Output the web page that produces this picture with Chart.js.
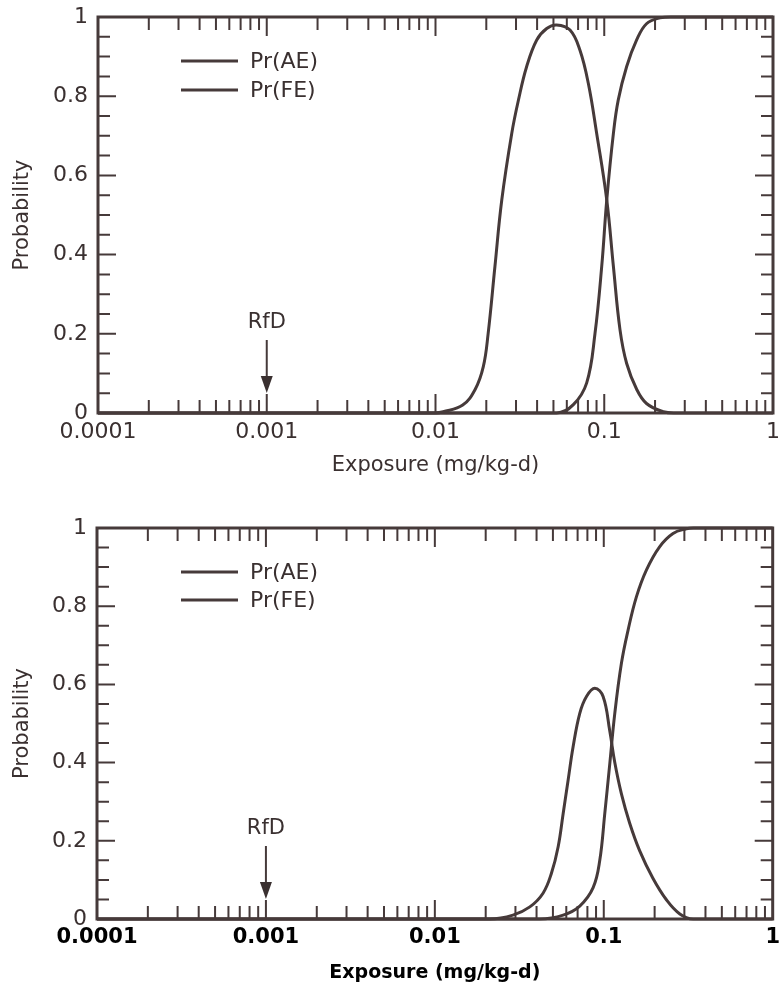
<!DOCTYPE html>
<html>
<head>
<meta charset="utf-8">
<script src="https://cdn.jsdelivr.net/npm/chart.js@4.4.1/dist/chart.umd.min.js"></script>
<style>
  html, body { margin: 0; padding: 0; background: #fff; }
  #wrap { position: relative; width: 780px; height: 990px; overflow: hidden; }
  canvas { position: absolute; left: 0; }
  #topChart { top: -20px; }
  #bottomChart { top: 480px; }
</style>
</head>
<body>
<div id="wrap">
  <canvas id="topChart" width="786" height="500"></canvas>
  <canvas id="bottomChart" width="786" height="510"></canvas>
</div>
<script>
// axis ticks
const exposureTicks = [0.0001, 0.001, 0.01, 0.1, 1];
const probTicks = [0, 0.2, 0.4, 0.6, 0.8, 1];
const minorMultipliers = [1, 2, 3, 4, 5, 6, 7, 8, 9];
const rfd = 0.001;
const seriesLabels = ["Pr(AE)", "Pr(FE)"];

// upper panel
const topAeX = [0.0001, 0.0100, 0.0111, 0.0145, 0.0172, 0.0192, 0.0205, 0.0225, 0.0247, 0.0283, 0.0310, 0.0347, 0.0398, 0.0456, 0.0522, 0.0627, 0.0718, 0.0805, 0.0902, 0.1035, 0.1133, 0.124, 0.1358, 0.1556, 0.178, 0.224, 0.26, 1];
const topAeY = [0, 0, 0.003, 0.02, 0.06, 0.117, 0.20, 0.37, 0.538, 0.706, 0.79, 0.875, 0.942, 0.971, 0.98, 0.967, 0.916, 0.832, 0.706, 0.538, 0.37, 0.21, 0.125, 0.06, 0.024, 0.003, 0, 0];
const topFeX = [0.0001, 0.0522, 0.0656, 0.0787, 0.0881, 0.0966, 0.1035, 0.1133, 0.121, 0.1358, 0.1556, 0.178, 0.214, 0.25, 1];
const topFeY = [0, 0, 0.021, 0.076, 0.20, 0.37, 0.538, 0.706, 0.79, 0.875, 0.942, 0.983, 0.998, 1, 1];

// lower panel
const botAeX = [0.0001, 0.0211, 0.029, 0.0365, 0.0437, 0.049, 0.0537, 0.0575, 0.0615, 0.0658, 0.0721, 0.079, 0.0885, 0.0991, 0.1086, 0.1162, 0.1272, 0.1424, 0.163, 0.195, 0.236, 0.282, 0.338, 1];
const botAeY = [0, 0, 0.01, 0.031, 0.066, 0.117, 0.185, 0.27, 0.355, 0.44, 0.526, 0.569, 0.59, 0.569, 0.48, 0.40, 0.32, 0.245, 0.175, 0.105, 0.048, 0.013, 0, 0];
const botFeX = [0.0001, 0.0418, 0.0575, 0.0721, 0.0865, 0.0947, 0.1014, 0.1086, 0.1162, 0.1272, 0.1393, 0.156, 0.179, 0.214, 0.257, 0.308, 0.34, 1];
const botFeY = [0, 0, 0.01, 0.033, 0.08, 0.15, 0.27, 0.398, 0.526, 0.654, 0.739, 0.824, 0.893, 0.952, 0.986, 0.998, 1, 1];

const ink = "#463a3a";
const FONT = "'DejaVu Sans', sans-serif";

const toPoints = (xs, ys) => xs.map((x, i) => ({ x: x, y: ys[i] }));

// box with inward ticks on all four sides
const framePlugin = {
  id: "frame",
  afterDatasetsDraw(chart) {
    const { ctx, chartArea: a } = chart;
    const xs = chart.scales.x, ys = chart.scales.y;
    ctx.save();
    ctx.strokeStyle = ink;
    ctx.lineWidth = 2;
    ctx.beginPath();
    exposureTicks.slice(0, -1).forEach((d) => {
      minorMultipliers.forEach((m) => {
        const px = xs.getPixelForValue(d * m);
        const len = m === 1 ? 19 : 13;
        ctx.moveTo(px, a.bottom); ctx.lineTo(px, a.bottom - len);
        ctx.moveTo(px, a.top); ctx.lineTo(px, a.top + len);
      });
    });
    for (let i = 0; i <= 20; i++) {
      const py = ys.getPixelForValue(i * 0.05);
      const len = i % 4 === 0 ? 18 : 12;
      ctx.moveTo(a.left, py); ctx.lineTo(a.left + len, py);
      ctx.moveTo(a.right, py); ctx.lineTo(a.right - len, py);
    }
    ctx.stroke();
    ctx.lineWidth = 3;
    ctx.strokeRect(a.left, a.top, a.width, a.height);
    ctx.restore();
  },
};

// legend lines inside the plot
const legendPlugin = {
  id: "legendBox",
  afterDraw(chart, args, opts) {
    const { ctx, chartArea: a } = chart;
    ctx.save();
    ctx.font = "22px " + FONT;
    ctx.textBaseline = "middle";
    chart.data.datasets.forEach((ds, i) => {
      const y = a.top + opts.dy + i * opts.gap;
      ctx.strokeStyle = ds.borderColor;
      ctx.lineWidth = 3;
      ctx.beginPath();
      ctx.moveTo(opts.x, y);
      ctx.lineTo(opts.x + 57, y);
      ctx.stroke();
      ctx.fillStyle = "#3a3030";
      ctx.fillText(ds.label, opts.x + 69, y + 1);
    });
    ctx.restore();
  },
};

// RfD arrow
const rfdPlugin = {
  id: "rfd",
  afterDraw(chart) {
    const { ctx, chartArea: a } = chart;
    const px = chart.scales.x.getPixelForValue(rfd);
    ctx.save();
    ctx.fillStyle = "#3a3030";
    ctx.strokeStyle = ink;
    ctx.font = "21px " + FONT;
    ctx.textAlign = "center";
    ctx.textBaseline = "middle";
    ctx.fillText("RfD", px, a.bottom - 90);
    ctx.lineWidth = 2;
    ctx.beginPath();
    ctx.moveTo(px, a.bottom - 73);
    ctx.lineTo(px, a.bottom - 34);
    ctx.stroke();
    ctx.beginPath();
    ctx.moveTo(px - 6, a.bottom - 37);
    ctx.lineTo(px + 6, a.bottom - 37);
    ctx.lineTo(px, a.bottom - 20);
    ctx.closePath();
    ctx.fill();
    ctx.restore();
  },
};

function makeChart(id, ae, fe, p) {
  const canvas = document.getElementById(id);
  return new Chart(canvas, {
    type: "line",
    data: {
      datasets: [
        { label: seriesLabels[0], data: ae },
        { label: seriesLabels[1], data: fe },
      ].map((ds) => Object.assign(ds, {
        borderColor: ink,
        borderWidth: 3,
        pointRadius: 0,
        fill: false,
        tension: 0.4,
        clip: 6,
      })),
    },
    options: {
      responsive: false,
      animation: false,
      events: [],
      layout: { padding: { top: p.padTop, right: 7, left: 0, bottom: 0 } },
      plugins: {
        legend: { display: false },
        tooltip: { enabled: false },
        legendBox: { x: 181, dy: 44, gap: p.legendGap },
      },
      scales: {
        x: {
          type: "logarithmic",
          min: 0.0001,
          max: 1,
          afterBuildTicks: (s) => { s.ticks = exposureTicks.map((v) => ({ value: v })); },
          afterFit: (s) => { s.height = p.axisH; },
          grid: { display: false, drawTicks: false },
          border: { display: false },
          ticks: {
            autoSkip: false,
            maxRotation: 0,
            padding: 6,
            color: p.xColor,
            font: { family: FONT, size: p.xTickSize, weight: p.xWeight },
            callback: (v) => String(v),
          },
          title: {
            display: true,
            text: "Exposure (mg/kg-d)",
            color: p.xColor,
            font: { family: FONT, size: p.xTitleSize, weight: p.xWeight },
            padding: { top: 0, bottom: p.titlePad },
          },
        },
        y: {
          min: 0,
          max: 1,
          afterBuildTicks: (s) => { s.ticks = probTicks.map((v) => ({ value: v })); },
          afterFit: (s) => { s.width = p.left; },
          grid: { display: false, drawTicks: false },
          border: { display: false },
          ticks: {
            padding: 10,
            color: "#3a3030",
            font: { family: FONT, size: 22 },
            callback: (v) => String(v),
          },
          title: {
            display: true,
            text: "Probability",
            color: "#3a3030",
            font: { family: FONT, size: 21 },
            padding: { top: 10, bottom: 0 },
          },
        },
      },
    },
    plugins: [framePlugin, legendPlugin, rfdPlugin],
  });
}

makeChart("topChart", toPoints(topAeX, topAeY), toPoints(topFeX, topFeY), {
  padTop: 37, axisH: 67, left: 98, legendGap: 29,
  xColor: "#3a3030", xTickSize: 22, xTitleSize: 21, xWeight: "normal", titlePad: 2,
});

makeChart("bottomChart", toPoints(botAeX, botAeY), toPoints(botFeX, botFeY), {
  padTop: 48, axisH: 71, left: 97, legendGap: 28,
  xColor: "#000", xTickSize: 21, xTitleSize: 19, xWeight: "bold", titlePad: 6,
});
</script>
</body>
</html>
